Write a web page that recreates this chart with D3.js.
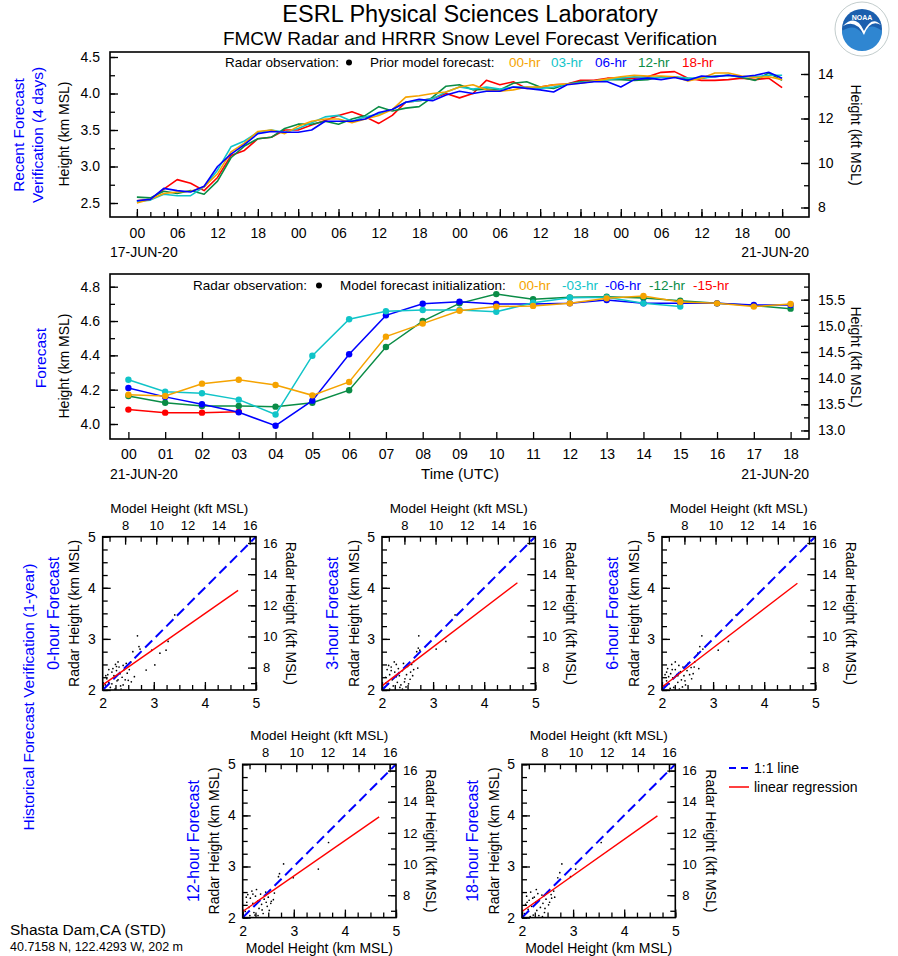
<!DOCTYPE html>
<html>
<head>
<meta charset="utf-8">
<script src="https://cdn.jsdelivr.net/npm/d3@7"></script>
<style>
  body { margin: 0; background: #fff; }
</style>
</head>
<body>
<svg id="chart" width="898" height="956"></svg>
<script>
const FONT = "Liberation Sans, Arial, Helvetica, sans-serif";
const KFT = 3.28084; // km -> kft

// colours for the forecast lead times
const leadColors = { h00: "#f5a300", h03: "#10c4c8", h06: "#0000ff", h12: "#0a8c46", h18: "#ff0000" };

// ---- recent forecast verification (4 days), every 2 hours from 00 UTC 17-JUN-20
const recentHours = d3.range(0, 97, 2);
const recent00 = [2.50,2.55,2.63,2.65,2.66,2.72,2.90,3.20,3.32,3.48,3.50,3.45,3.55,3.62,3.65,3.65,3.60,3.65,3.70,3.78,3.95,3.97,4.00,4.02,4.09,4.12,4.05,4.03,4.05,4.09,4.09,4.12,4.13,4.14,4.17,4.20,4.23,4.25,4.24,4.24,4.23,4.17,4.21,4.28,4.28,4.24,4.22,4.23,4.19];
const recent03 = [2.52,2.54,2.62,2.60,2.60,2.72,2.95,3.27,3.35,3.47,3.50,3.47,3.52,3.60,3.68,3.70,3.62,3.68,3.72,3.78,3.88,3.90,3.93,4.02,4.09,4.06,4.09,4.06,4.09,4.09,4.07,4.09,4.13,4.15,4.17,4.19,4.21,4.23,4.22,4.22,4.23,4.21,4.21,4.23,4.25,4.23,4.23,4.25,4.25];
const recent06 = [2.53,2.55,2.70,2.67,2.65,2.73,3.00,3.17,3.30,3.45,3.48,3.47,3.47,3.50,3.62,3.62,3.62,3.65,3.74,3.78,3.88,3.92,3.90,3.98,4.03,4.00,4.03,4.03,4.09,4.07,4.05,4.02,4.12,4.14,4.16,4.16,4.09,4.19,4.21,4.19,4.22,4.18,4.24,4.23,4.25,4.23,4.25,4.29,4.21];
const recent12 = [2.58,2.57,2.66,2.63,2.67,2.62,2.80,3.12,3.28,3.38,3.40,3.52,3.58,3.58,3.62,3.58,3.65,3.70,3.82,3.76,3.80,3.82,3.95,4.10,4.12,4.05,4.06,4.05,4.14,4.16,4.09,4.07,4.13,4.16,4.17,4.19,4.19,4.18,4.19,4.23,4.23,4.19,4.21,4.24,4.25,4.22,4.18,4.28,4.18];
const recent18 = [2.53,2.55,2.69,2.82,2.77,2.67,2.85,3.15,3.22,3.38,3.40,3.50,3.50,3.57,3.63,3.70,3.75,3.68,3.59,3.70,3.88,3.90,3.93,4.00,3.94,4.00,4.18,4.12,4.16,4.07,4.09,4.12,4.13,4.18,4.18,4.21,4.21,4.21,4.23,4.29,4.30,4.21,4.18,4.18,4.19,4.21,4.19,4.21,4.08];

// ---- forecast for 21-JUN-20, hourly 00..18 UTC, by initialization
const forecastHours = d3.range(0, 19);
const init00 = [4.170,4.163,4.235,4.258,4.227,4.167,4.245,4.509,4.585,4.660,4.684,4.688,4.703,4.732,4.746,4.711,4.703,4.684,4.699];
const init03 = [4.258,4.188,4.179,4.142,4.055,4.398,4.610,4.657,4.664,4.664,4.654,4.707,4.736,4.738,4.703,4.684];
const init06 = [4.210,4.158,4.115,4.068,3.990,4.136,4.406,4.633,4.701,4.713,4.699,4.699,4.703,4.722,4.703,4.703,4.703,4.693,4.693];
const init12 = [4.163,4.124,4.105,4.105,4.101,4.124,4.197,4.449,4.600,4.703,4.757,4.727,4.738,4.742,4.734,4.718,4.703,4.690,4.672];
const init15 = [4.084,4.066,4.066,4.072];

// ---- historical verification scatter (model km, radar km)
const panelNames = ["0-hour Forecast", "3-hour Forecast", "6-hour Forecast", "12-hour Forecast", "18-hour Forecast"];
const pts0 = [[2.68,3.06],[2.59,2.75],[2.71,2.85],[2.73,2.80],[2.96,2.78],[3.12,2.72],[3.24,2.78],[3.28,2.95],[3.41,3.47],[3.02,2.49],[2.85,2.39],[2.62,2.26],[2.56,2.16],[2.50,2.19],[2.05,2.10],[2.08,2.22],[2.10,2.30],[2.12,2.15],[2.15,2.05],[2.18,2.35],[2.20,2.42],[2.22,2.28],[2.25,2.50],[2.27,2.38],[2.28,2.18],[2.30,2.55],[2.32,2.45],[2.34,2.32],[2.35,2.08],[2.38,2.25],[2.40,2.48],[2.42,2.40],[2.44,2.20],[2.46,2.52],[2.48,2.33],[2.36,2.02],[2.18,2.12],[2.24,2.02],[2.12,2.40],[2.06,2.28],[2.30,2.20],[2.52,2.40],[2.40,2.10],[2.55,2.55],[2.27,2.46]];
const pts3 = [[2.72,3.06],[2.71,2.82],[2.68,2.75],[2.74,2.78],[3.06,2.80],[3.25,2.95],[3.43,3.47],[2.62,2.56],[2.70,2.43],[2.55,2.21],[2.05,2.05],[2.07,2.25],[2.10,2.40],[2.12,2.12],[2.15,2.30],[2.18,2.45],[2.20,2.20],[2.22,2.08],[2.25,2.35],[2.28,2.50],[2.30,2.15],[2.32,2.42],[2.34,2.28],[2.37,2.10],[2.40,2.38],[2.42,2.52],[2.45,2.22],[2.48,2.30],[2.50,2.46],[2.52,2.12],[2.56,2.35],[2.60,2.28],[2.15,2.02],[2.24,2.55],[2.08,2.14],[2.35,2.05],[2.44,2.16],[2.28,2.26],[2.18,2.38],[2.40,2.02],[2.62,2.40],[2.58,2.50],[2.13,2.48],[2.33,2.33],[2.47,2.06]];
const pts6 = [[2.78,3.06],[2.74,2.85],[2.80,2.80],[2.70,2.72],[3.10,2.78],[3.30,2.95],[3.45,3.47],[2.64,2.55],[2.72,2.42],[2.58,2.22],[2.04,2.08],[2.06,2.30],[2.09,2.18],[2.11,2.42],[2.14,2.12],[2.17,2.32],[2.19,2.50],[2.21,2.24],[2.23,2.05],[2.26,2.40],[2.29,2.30],[2.31,2.15],[2.33,2.48],[2.36,2.36],[2.38,2.20],[2.41,2.45],[2.43,2.28],[2.46,2.10],[2.49,2.38],[2.51,2.52],[2.54,2.30],[2.57,2.44],[2.61,2.32],[2.16,2.03],[2.26,2.55],[2.09,2.35],[2.34,2.02],[2.45,2.18],[2.20,2.40],[2.40,2.06],[2.63,2.45],[2.13,2.26],[2.31,2.28]];
const pts12 = [[2.80,3.05],[2.72,2.86],[2.70,2.80],[2.99,2.78],[3.68,3.47],[3.48,2.95],[2.24,2.05],[2.60,2.35],[2.62,2.48],[2.55,2.28],[2.50,2.40],[2.05,2.12],[2.08,2.30],[2.10,2.45],[2.12,2.20],[2.15,2.38],[2.18,2.52],[2.20,2.28],[2.22,2.10],[2.25,2.42],[2.27,2.55],[2.30,2.33],[2.32,2.18],[2.35,2.46],[2.37,2.26],[2.40,2.08],[2.42,2.36],[2.45,2.50],[2.48,2.22],[2.52,2.14],[2.56,2.32],[2.14,2.04],[2.30,2.04],[2.07,2.40],[2.38,2.15],[2.46,2.30],[2.20,2.46]];
const pts18 = [[2.78,3.05],[2.74,2.88],[2.70,2.78],[2.95,2.80],[3.55,3.47],[3.05,2.95],[2.62,2.52],[2.58,2.38],[2.52,2.25],[2.05,2.08],[2.07,2.26],[2.09,2.42],[2.12,2.16],[2.14,2.34],[2.17,2.50],[2.19,2.22],[2.22,2.05],[2.24,2.40],[2.27,2.30],[2.29,2.14],[2.31,2.47],[2.34,2.35],[2.36,2.20],[2.39,2.44],[2.41,2.28],[2.44,2.10],[2.47,2.36],[2.50,2.50],[2.54,2.30],[2.57,2.45],[2.16,2.02],[2.28,2.55],[2.10,2.30],[2.33,2.04],[2.45,2.18],[2.21,2.38],[2.40,2.02],[2.64,2.40]];
// regression lines [x0, y0, x1, y1] in km
const regLines = [[2, 2.10, 4.65, 3.95], [2, 2.08, 4.65, 4.10], [2, 2.06, 4.65, 4.09], [2, 2.12, 4.67, 3.97], [2, 2.12, 4.65, 3.99]];

const svg = d3.select("#chart");

function txt(x, y, s, size, opts = {}) {
  const t = svg.append("text")
    .attr("x", x).attr("y", y)
    .attr("font-family", FONT)
    .attr("font-size", size)
    .attr("fill", opts.color || "#000")
    .attr("text-anchor", opts.anchor || "start")
    .text(s);
  if (opts.rotate) {
    t.attr("transform", `rotate(${opts.rotate},${x},${y})`).attr("dominant-baseline", "middle");
  }
  return t;
}

function axisG(axis, tx, ty, size) {
  const g = svg.append("g").attr("transform", `translate(${tx},${ty})`).call(axis);
  g.select(".domain").remove();
  g.attr("font-family", FONT).attr("font-size", size);
  g.selectAll("line").attr("stroke", "#000").attr("stroke-width", 1.3);
  g.selectAll("text").attr("fill", "#000");
  return g;
}

function frame(l, t, r, b) {
  svg.append("rect").attr("x", l).attr("y", t).attr("width", r - l).attr("height", b - t)
    .attr("fill", "none").attr("stroke", "#000").attr("stroke-width", 1.6);
}

const hh = h => String(h % 24).padStart(2, "0");

// ---------------- titles
txt(470, 22, "ESRL Physical Sciences Laboratory", 23.5, { anchor: "middle" });
txt(470, 45, "FMCW Radar and HRRR Snow Level Forecast Verification", 19, { anchor: "middle" });

// NOAA logo (simplified)
const logo = svg.append("g").attr("transform", "translate(862,29)");
logo.append("circle").attr("r", 27).attr("fill", "#fff").attr("stroke", "#9aa").attr("stroke-width", 0.6);
logo.append("circle").attr("r", 20).attr("fill", "#1b5fae");
logo.append("path").attr("d", "M-20,2 Q-8,-6 0,4 Q8,-8 20,2 A20,20 0 0 1 -20,2 Z").attr("fill", "#2f86d1");
logo.append("path").attr("d", "M-19,-3 Q-6,-16 2,2 Q10,-14 19,-4 Q8,-10 2,6 Q-6,-10 -19,-3 Z").attr("fill", "#fff");
logo.append("text").attr("y", -9).attr("text-anchor", "middle").attr("font-family", FONT)
  .attr("font-size", 7).attr("font-weight", "bold").attr("fill", "#fff").text("NOAA");

// ---------------- panel 1: recent verification
const x1 = d3.scaleLinear().domain([-4, 100]).range([110, 809]);
const y1 = d3.scaleLinear().domain([2.5, 4.5]).range([203, 57]);
const yk1 = d3.scaleLinear().domain([2.5 * KFT, 4.5 * KFT]).range([203, 57]);

axisG(d3.axisLeft(y1).tickValues(d3.range(2.5, 4.51, 0.25)).tickSize(-5).tickFormat(""), 110, 0, 14);
axisG(d3.axisLeft(y1).tickValues([2.5, 3, 3.5, 4, 4.5]).tickSize(-8).tickPadding(10).tickFormat(d3.format(".1f")), 110, 0, 14);
axisG(d3.axisRight(yk1).tickValues(d3.range(8, 15)).tickSize(-5).tickFormat(""), 809, 0, 14);
axisG(d3.axisRight(yk1).tickValues([8, 10, 12, 14]).tickSize(-8).tickPadding(9).tickFormat(d3.format("d")), 809, 0, 14);
axisG(d3.axisBottom(x1).tickValues(d3.range(0, 97, 2)).tickSize(-5).tickFormat(""), 0, 217, 14);
axisG(d3.axisBottom(x1).tickValues(d3.range(0, 97, 6)).tickSize(-8).tickPadding(11).tickFormat(hh), 0, 217, 14);

const line1 = d3.line().x((d, i) => x1(recentHours[i])).y(d => y1(d));
const recentSeries = [
  { v: recent18, c: leadColors.h18 },
  { v: recent12, c: leadColors.h12 },
  { v: recent03, c: leadColors.h03 },
  { v: recent00, c: leadColors.h00 },
  { v: recent06, c: leadColors.h06 }
];
svg.append("g").selectAll("path").data(recentSeries).enter().append("path")
  .attr("d", d => line1(d.v)).attr("fill", "none")
  .attr("stroke", d => d.c).attr("stroke-width", 1.6).attr("stroke-linejoin", "round");
frame(110, 52, 809, 217);

txt(225, 67, "Radar observation:", 13.5);
svg.append("circle").attr("cx", 349).attr("cy", 62.5).attr("r", 3).attr("fill", "#000");
txt(370, 67, "Prior model forecast:", 13.5);
const leg1 = [["00-hr", leadColors.h00, 509], ["03-hr", leadColors.h03, 551], ["06-hr", leadColors.h06, 595], ["12-hr", leadColors.h12, 638], ["18-hr", leadColors.h18, 682]];
leg1.forEach(d => txt(d[2], 67, d[0], 13.5, { color: d[1] }));

txt(20, 135, "Recent Forecast", 15.5, { rotate: -90, anchor: "middle", color: "#0000ff" });
txt(39, 135, "Verification (4 days)", 15.5, { rotate: -90, anchor: "middle", color: "#0000ff" });
txt(65, 134, "Height (km MSL)", 14, { rotate: -90, anchor: "middle" });
txt(855, 135, "Height (kft MSL)", 14, { rotate: 90, anchor: "middle" });
txt(110, 257, "17-JUN-20", 14);
txt(809, 257, "21-JUN-20", 14, { anchor: "end" });

// ---------------- panel 2: forecast
const x2 = d3.scaleLinear().domain([-0.5, 18.5]).range([110, 809]);
const y2 = d3.scaleLinear().domain([4.0, 4.8]).range([424, 286.7]);
const yk2 = d3.scaleLinear().domain([4.0 * KFT, 4.8 * KFT]).range([424, 286.7]);

axisG(d3.axisLeft(y2).tickValues([4.0, 4.1, 4.2, 4.3, 4.4, 4.5, 4.6, 4.7, 4.8]).tickSize(-5).tickFormat(""), 110, 0, 14);
axisG(d3.axisLeft(y2).tickValues([4.0, 4.2, 4.4, 4.6, 4.8]).tickSize(-8).tickPadding(10).tickFormat(d3.format(".1f")), 110, 0, 14);
axisG(d3.axisRight(yk2).tickValues([13.0, 13.25, 13.5, 13.75, 14.0, 14.25, 14.5, 14.75, 15.0, 15.25, 15.5, 15.75]).tickSize(-5).tickFormat(""), 809, 0, 14);
axisG(d3.axisRight(yk2).tickValues([13.0, 13.5, 14.0, 14.5, 15.0, 15.5]).tickSize(-8).tickPadding(9).tickFormat(d3.format(".1f")), 809, 0, 14);
axisG(d3.axisBottom(x2).tickValues(forecastHours).tickSize(-7).tickPadding(10).tickFormat(hh), 0, 439, 14);

const fcSeries = [
  { v: init15, c: leadColors.h18 },
  { v: init12, c: leadColors.h12 },
  { v: init06, c: leadColors.h06 },
  { v: init03, c: leadColors.h03 },
  { v: init00, c: leadColors.h00 }
];
const line2 = d3.line().x((d, i) => x2(forecastHours[i])).y(d => y2(d));
const fcG = svg.append("g").selectAll("g").data(fcSeries).enter().append("g");
fcG.append("path").attr("d", d => line2(d.v)).attr("fill", "none")
  .attr("stroke", d => d.c).attr("stroke-width", 1.5);
fcG.selectAll("circle").data(d => d.v.map((v, i) => ({ v, i, c: d.c }))).enter().append("circle")
  .attr("cx", d => x2(forecastHours[d.i])).attr("cy", d => y2(d.v)).attr("r", 3.2).attr("fill", d => d.c);
frame(110, 274, 809, 439);

txt(193, 290, "Radar observation:", 13.5);
svg.append("circle").attr("cx", 319).attr("cy", 285.5).attr("r", 3).attr("fill", "#000");
txt(340, 290, "Model forecast initialization:", 13.5);
const leg2 = [["00-hr", leadColors.h00, 519], ["-03-hr", leadColors.h03, 562], ["-06-hr", leadColors.h06, 605], ["-12-hr", leadColors.h12, 649], ["-15-hr", leadColors.h18, 693]];
leg2.forEach(d => txt(d[2], 290, d[0], 13.5, { color: d[1] }));

txt(42, 358, "Forecast", 15.5, { rotate: -90, anchor: "middle", color: "#0000ff" });
txt(65, 366, "Height (km MSL)", 14, { rotate: -90, anchor: "middle" });
txt(855, 357, "Height (kft MSL)", 14, { rotate: 90, anchor: "middle" });
txt(110, 479, "21-JUN-20", 14);
txt(809, 479, "21-JUN-20", 14, { anchor: "end" });
txt(460, 479, "Time (UTC)", 15, { anchor: "middle" });

// ---------------- historical verification scatter panels
const S = 153.3;
const panelPos = [[102.7, 536.7], [382, 536.7], [662, 536.7], [242.7, 764.3], [522, 764.3]];
const panelPts = [pts0, pts3, pts6, pts12, pts18];

panelPos.forEach((p, k) => {
  const [L, T] = p;
  const xs = d3.scaleLinear().domain([2, 5]).range([L, L + S]);
  const ys = d3.scaleLinear().domain([2, 5]).range([T + S, T]);
  const xk = d3.scaleLinear().domain([2 * KFT, 5 * KFT]).range([L, L + S]);
  const yk = d3.scaleLinear().domain([2 * KFT, 5 * KFT]).range([T + S, T]);
  const minorKm = d3.range(2, 5.01, 0.25);
  const kftTicks = d3.range(7, 17);

  axisG(d3.axisLeft(ys).tickValues(minorKm).tickSize(-5).tickFormat(""), L, 0, 14);
  axisG(d3.axisLeft(ys).tickValues([2, 3, 4, 5]).tickSize(-8).tickPadding(7).tickFormat(d3.format("d")), L, 0, 14);
  axisG(d3.axisBottom(xs).tickValues(minorKm).tickSize(-5).tickFormat(""), 0, T + S, 14);
  axisG(d3.axisBottom(xs).tickValues([2, 3, 4, 5]).tickSize(-8).tickPadding(8).tickFormat(d3.format("d")), 0, T + S, 14);
  axisG(d3.axisTop(xk).tickValues(kftTicks).tickSize(-5).tickFormat(""), 0, T, 13);
  axisG(d3.axisTop(xk).tickValues([8, 10, 12, 14, 16]).tickSize(-8).tickPadding(7).tickFormat(d3.format("d")), 0, T, 13);
  axisG(d3.axisRight(yk).tickValues(kftTicks).tickSize(-5).tickFormat(""), L + S, 0, 13);
  axisG(d3.axisRight(yk).tickValues([8, 10, 12, 14, 16]).tickSize(-8).tickPadding(7).tickFormat(d3.format("d")), L + S, 0, 13);

  svg.append("g").selectAll("circle").data(panelPts[k]).enter().append("circle")
    .attr("cx", d => xs(d[0])).attr("cy", d => ys(d[1])).attr("r", 0.85).attr("fill", "#000");

  svg.append("line").attr("x1", xs(2)).attr("y1", ys(2)).attr("x2", xs(5)).attr("y2", ys(5))
    .attr("stroke", "#0000ff").attr("stroke-width", 2).attr("stroke-dasharray", "10,5");
  const r = regLines[k];
  svg.append("line").attr("x1", xs(r[0])).attr("y1", ys(r[1])).attr("x2", xs(r[2])).attr("y2", ys(r[3]))
    .attr("stroke", "#ff0000").attr("stroke-width", 1.4);
  frame(L, T, L + S, T + S);

  txt(L + S / 2, T - 24, "Model Height (kft MSL)", 13.5, { anchor: "middle" });
  txt(L - 48, T + S / 2, panelNames[k], 16, { rotate: -90, anchor: "middle", color: "#0000ff" });
  txt(L - 27, T + S / 2, "Radar Height (km MSL)", 14, { rotate: -90, anchor: "middle" });
  txt(L + S + 34, T + S / 2, "Radar Height (kft MSL)", 14, { rotate: 90, anchor: "middle" });
  if (k >= 3) txt(L + S / 2, T + S + 35, "Model Height (km MSL)", 14, { anchor: "middle" });
});

txt(30, 697, "Historical Forecast Verification (1-year)", 15.5, { rotate: -90, anchor: "middle", color: "#0000ff" });

// legend for the scatter panels
svg.append("line").attr("x1", 729).attr("y1", 768).attr("x2", 749).attr("y2", 768)
  .attr("stroke", "#0000ff").attr("stroke-width", 2).attr("stroke-dasharray", "7,5");
txt(754, 773, "1:1 line", 14);
svg.append("line").attr("x1", 729).attr("y1", 787).attr("x2", 749).attr("y2", 787)
  .attr("stroke", "#ff0000").attr("stroke-width", 1.5);
txt(754, 792, "linear regression", 14);

// site info
txt(10, 935, "Shasta Dam,CA (STD)", 15.5);
txt(10, 951, "40.7158 N, 122.4293 W, 202 m", 12.5);
</script>
</body>
</html>
